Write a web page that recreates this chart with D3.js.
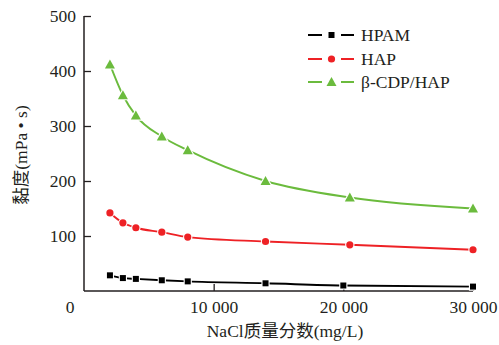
<!DOCTYPE html>
<html><head><meta charset="utf-8">
<script src="https://cdn.jsdelivr.net/npm/d3@7"></script>
<style>body{margin:0;background:#fff;}</style>
</head>
<body>
<svg id="c" width="499" height="345"></svg>
<script>
const seriesNames = ["HPAM", "HAP", "β-CDP/HAP"];
const seriesColors = ["#000000", "#ee2125", "#6bbb3d"];
const seriesShapes = ["square", "circle", "triangle"];
const xHPAM = [2000, 3000, 4000, 6000, 8000, 14000, 20000, 30000];
const yHPAM = [28.5, 23.5, 22, 19.5, 17.5, 14, 10, 8];
const xHAP = [2000, 3000, 4000, 6000, 8000, 14000, 20500, 30000];
const yHAP = [142, 124, 115, 107, 98, 90, 84, 75];
const xCDP = [2000, 3000, 4000, 6000, 8000, 14000, 20500, 30000];
const yCDP = [412, 356, 319, 281, 256, 200, 170, 150];
const yTicks = [100, 200, 300, 400, 500];
const xTicks = [10000, 20000, 30000];
const yTitle = "黏度(mPa • s)";
const xTitle = "NaCl质量分数(mg/L)";

const seriesX = [xHPAM, xHAP, xCDP];
const seriesY = [yHPAM, yHAP, yCDP];

const FONT = '"Liberation Serif", "Noto Sans CJK SC", serif';
const TXT = "#231f20";
const svg = d3.select("#c");
const x = d3.scaleLinear().domain([0, 30000]).range([84, 473]);
const y = d3.scaleLinear().domain([0, 500]).range([291, 16]);
const fs = 17.5;

const fmt = d => d3.format(",")(d).replace(/,/g, " ");

const gy = svg.append("g").attr("transform", "translate(84,0)")
  .call(d3.axisLeft(y).tickValues(yTicks).tickSizeInner(-7).tickSizeOuter(0).tickPadding(8));
gy.select(".domain").attr("d", `M0,${y(500)}V${y(0)}`).attr("stroke", TXT).attr("stroke-width", 1.5);
gy.selectAll(".tick line").attr("stroke", TXT).attr("stroke-width", 1.3);
gy.selectAll(".tick text").style("font-family", FONT).style("font-size", fs + "px").style("fill", TXT);

const gx = svg.append("g").attr("transform", "translate(0,291)")
  .call(d3.axisBottom(x).tickValues(xTicks).tickFormat(fmt).tickSizeInner(-7).tickSizeOuter(0).tickPadding(10));
gx.select(".domain").attr("d", `M${x(0)},0H${x(30000)}`).attr("stroke", TXT).attr("stroke-width", 1.5);
gx.selectAll(".tick line").attr("stroke", TXT).attr("stroke-width", 1.3);
gx.selectAll(".tick text").style("font-family", FONT).style("font-size", fs + "px").style("fill", TXT);

function txt(sel) { return sel.style("font-family", FONT).style("font-size", fs + "px").style("fill", TXT); }

txt(svg.append("text").attr("x", 70).attr("y", 313).attr("text-anchor", "middle").text("0"));
txt(svg.append("text").attr("transform", "translate(27,155) rotate(-90)").attr("text-anchor", "middle").text(yTitle));
txt(svg.append("text").attr("x", 285).attr("y", 337).attr("text-anchor", "middle").text(xTitle));

function marker(g, shape, cx, cy, color, halo) {
  let el;
  if (shape === "square") el = g.append("rect").attr("x", cx - 3).attr("y", cy - 3).attr("width", 6).attr("height", 6);
  else if (shape === "circle") el = g.append("circle").attr("cx", cx).attr("cy", cy).attr("r", 3.6);
  else el = g.append("path").attr("d", `M${cx},${cy - 5}L${cx + 5},${cy + 4}L${cx - 5},${cy + 4}Z`);
  el.attr("fill", color);
  if (halo) el.attr("stroke", "#fff").attr("stroke-width", 2.2).attr("paint-order", "stroke");
}

const line = d3.line().x(d => x(d[0])).y(d => y(d[1])).curve(d3.curveMonotoneX);
seriesNames.forEach((name, i) => {
  const pts = seriesX[i].map((xv, k) => [xv, seriesY[i][k]]);
  const g = svg.append("g");
  g.append("path").datum(pts).attr("d", line).attr("fill", "none")
    .attr("stroke", seriesColors[i]).attr("stroke-width", 1.9);
  pts.forEach(p => marker(g, seriesShapes[i], x(p[0]), y(p[1]), seriesColors[i], true));
});

// legend
const legY = [35, 59, 82];
seriesNames.forEach((name, i) => {
  const g = svg.append("g");
  const cy = legY[i];
  g.append("line").attr("x1", 308).attr("x2", 322).attr("y1", cy).attr("y2", cy).attr("stroke", seriesColors[i]).attr("stroke-width", 2);
  g.append("line").attr("x1", 341).attr("x2", 354).attr("y1", cy).attr("y2", cy).attr("stroke", seriesColors[i]).attr("stroke-width", 2);
  marker(g, seriesShapes[i], 331.5, cy, seriesColors[i], false);
  txt(g.append("text").attr("x", 361).attr("y", cy + 6).text(name));
});
</script>
</body></html>
